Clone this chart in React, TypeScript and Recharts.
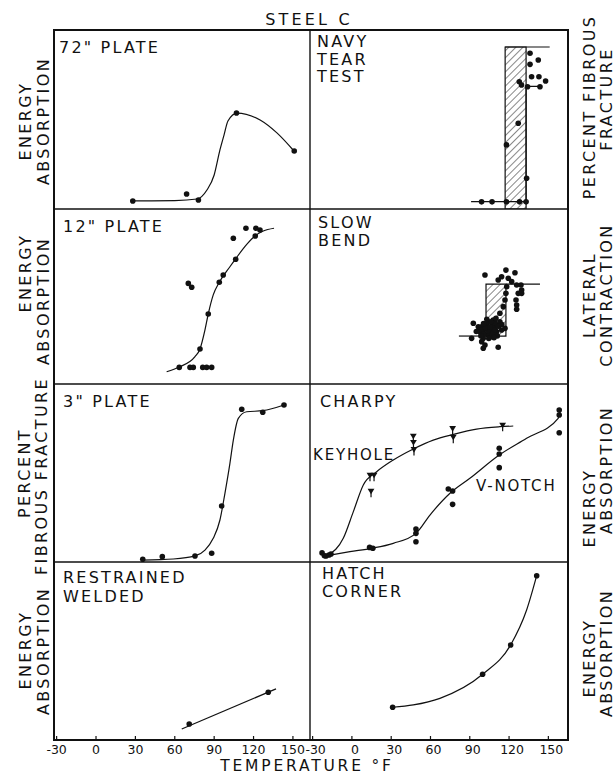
import React from "react";
import { ComposedChart, Line, Scatter, XAxis, YAxis, ReferenceArea } from "recharts";

const INK = "#111";
const FONT = '"DejaVu Sans", "Liberation Sans", sans-serif';

const TEMP_TICKS = [-30, 0, 30, 60, 90, 120, 150];
const LEFT_DOMAIN: [number, number] = [-32, 163];
const RIGHT_DOMAIN: [number, number] = [-32, 165];

// 72" plate — energy absorption
const plate72Temp = [28, 69, 78, 107, 151];
const plate72Energy = [4.5, 8.4, 5, 53.6, 32.4];
const plate72CurveTemp = [28, 60, 77, 84.5, 90, 94.4, 97.5, 100.5, 107.4, 125, 137.8, 150.8];
const plate72CurveEnergy = [4.5, 4.7, 5.6, 10.6, 19, 33, 41.3, 49.2, 53.6, 49.7, 42.5, 32.4];

// Navy tear test — percent fibrous fracture
const navyTemp = [99, 107, 118, 128, 133, 118, 127, 133.4, 127.8, 136, 142.3, 136, 137.2, 142.8, 147.9, 143.6, 134.1, 129.5];
const navyFibrous = [4, 4, 4, 4, 4, 35.8, 47.9, 17.2, 71.1, 87, 83.2, 80.8, 73.9, 73.9, 71.5, 68.3, 68.3, 69.3];
const navyStepTemp = [91, 133, 133, 143.6];
const navyStepFibrous = [4.1, 4.1, 68.5, 68.5];
const navyBandTemp = [117, 133];
const navyBandTop = 90.5;
const navyCapTemp = [117, 151];

// 12" plate — energy absorption
const plate12Temp = [63.4, 71.6, 74.1, 81.3, 84.3, 88.1, 79.2, 85.5, 93.9, 96.9, 106.4, 104.6, 114.2, 121.3, 121.8, 124.9, 70.3, 72.9];
const plate12Energy = [9.5, 9.5, 9.5, 9.5, 9.5, 9.5, 20, 40, 58.1, 62.3, 71.3, 83.3, 89, 84.6, 89, 88, 57.5, 55.3];
const plate12CurveTemp = [53.8, 63.4, 75.4, 79.2, 83, 85.5, 89.3, 93.9, 102, 106.6, 114.8, 121.1, 127.4, 135.6];
const plate12CurveEnergy = [7, 9.7, 15.6, 20, 30.9, 40, 50.9, 58.1, 67, 71.8, 79.8, 84.6, 87.4, 89];

// Slow bend — lateral contraction
const bendTemp = [
  101.6, 117.6, 124.5, 114.3, 111.7, 119.4, 122, 125.8, 129.1, 129.6, 127, 129.6, 125.3, 125.8, 125.8, 117.6, 118.2,
  92.7, 99.1, 100.3, 102.9, 105.4, 107.9, 110.5, 113, 110.5, 114.3, 116.9, 107.9, 113, 115.6, 116.9,
  100.3, 99.1, 101.6, 100.3, 111.7, 91.4, 104.1, 106.7, 97.8, 96.5, 103.9, 107, 103.1, 101, 104, 108, 111, 109, 98.5,
  102, 105.5, 109.5, 112, 104.5, 100.5, 106, 110, 114.5, 103, 98, 95, 108.5,
];
const bendContraction = [
  62.3, 65.1, 63.6, 61.3, 59.4, 60.4, 58.5, 56.6, 56.6, 53.7, 51.8, 51.8, 48, 45.1, 42.7, 51.8, 55.6,
  34.7, 32.7, 30.9, 33.7, 29.9, 31.8, 33.7, 35.6, 29.9, 30.9, 31.8, 36.6, 40.4, 44.2, 48,
  26.1, 24.2, 22.3, 20.4, 21, 26.1, 28, 27, 29.9, 32.7, 35.4, 33.1, 31.4, 28.5, 30.5, 29, 27.5, 35, 27.5,
  32, 32.5, 31, 33, 26, 34.5, 35.5, 37.5, 34, 37, 31, 30, 26.5,
];
const bendBandTemp = [102.4, 117.6];
const bendBandContraction = [27.4, 57.1];
const bendLowTemp = [81.7, 102.4];
const bendHighTemp = [117.6, 143.6];

// 3" plate — percent fibrous fracture
const plate3Temp = [35.6, 50.5, 75.4, 88.1, 95.7, 111, 127, 143.2];
const plate3Fibrous = [1.5, 3, 3.4, 4.9, 31.5, 85.8, 84.1, 88.2];
const plate3CurveTemp = [35.6, 58.9, 75.4, 83, 89.3, 94.4, 98.2, 102, 104.6, 108.4, 114.8, 127, 143.2];
const plate3CurveFibrous = [1.1, 1.7, 3.4, 6.7, 13.3, 23.6, 38.6, 55.4, 68.5, 80.7, 84.4, 85, 88.2];

// Charpy — keyhole and V-notch energy
const charpyStartTemp = [-22.8, -21, -19.8, -17.5, -16];
const charpyStartEnergy = [5.1, 3.5, 3.4, 3.9, 4.5];
const keyholeTemp = [13.8, 16.9, 14.6, 46.9, 47, 47.4, 76.9, 77.4, 115.1];
const keyholeEnergy = [48.5, 48.5, 39.5, 70.4, 66.9, 62.9, 74.7, 69.8, 76.6];
const keyholeCurveTemp = [-18, -6.6, 1.1, 8.7, 18.9, 31.6, 46.9, 62.1, 77.4, 95.2, 113, 123.2];
const keyholeCurveEnergy = [3.9, 13.3, 28.3, 43.3, 50.7, 57.3, 63.5, 68.5, 71.7, 74.7, 76, 76.4];
const vNotchTemp = [13.5, 16, 48.9, 48.9, 48.9, 73.6, 76.9, 76.9, 112.5, 112.5, 112.5, 158.3, 158.3, 158.3];
const vNotchEnergy = [8.2, 7.7, 18.5, 16.1, 11.4, 41, 39.9, 32.4, 63.9, 60.7, 53, 85.4, 82.6, 72.6];
const vNotchCurveTemp = [-16.7, -1.5, 15.1, 31.6, 48.9, 59.6, 74.9, 90.1, 112.5, 133.4, 157.5, 158.8];
const vNotchCurveEnergy = [3.9, 5.8, 7.7, 10.5, 16.1, 26.4, 38.6, 47, 60.1, 69.5, 80.7, 84.4];

// Restrained welded — energy absorption
const weldedTemp = [71, 131.2];
const weldedEnergy = [9, 26.8];
const weldedLineTemp = [65.3, 137.1];
const weldedLineEnergy = [6.2, 28.7];

// Hatch corner — energy absorption
const hatchTemp = [31.1, 99.8, 121.2, 141.1];
const hatchEnergy = [18.4, 36.9, 53.4, 92.3];
const hatchCurveTemp = [31.1, 46.9, 67.2, 99.8, 121.2, 133.4, 141.1];
const hatchCurveEnergy = [18.4, 19.7, 23.4, 36.9, 53.4, 73, 92.3];

const pts = (ts: number[], vs: number[]) => ts.map((t, i) => ({ t, v: vs[i] }));

const PAD = 18;

function Dot(props: any) {
  const { cx, cy } = props;
  if (cx == null || cy == null) return null;
  return <circle cx={cx} cy={cy} r={2.8} fill={INK} />;
}

function KeyholeMark(props: any) {
  const { cx, cy } = props;
  if (cx == null || cy == null) return null;
  return (
    <g>
      <path d={`M${cx - 3.4},${cy - 3} L${cx + 3.4},${cy - 3} L${cx},${cy + 2.6} Z`} fill={INK} />
      <line x1={cx} y1={cy} x2={cx} y2={cy + 5.5} stroke={INK} strokeWidth={1.2} />
    </g>
  );
}

// inward tick mark on the panel floor, with the temperature printed below on the bottom row
function tempTick(showLabel: boolean, labelShift: number) {
  return (props: any) => {
    const { x, y, payload } = props;
    return (
      <g>
        <line x1={x} y1={y} x2={x} y2={y - 4} stroke={INK} strokeWidth={1.2} />
        {showLabel && (
          <text x={x + labelShift} y={y + 14} textAnchor="middle" fontSize={12.5} fill={INK} fontFamily={FONT}>
            {payload.value}
          </text>
        )}
      </g>
    );
  };
}

function Panel({
  left,
  top,
  width,
  height,
  domain,
  labels = false,
  labelShift = 0,
  children,
}: {
  left: number;
  top: number;
  width: number;
  height: number;
  domain: [number, number];
  labels?: boolean;
  labelShift?: number;
  children: React.ReactNode;
}) {
  const axisH = labels ? 22 : 0;
  return (
    <div style={{ position: "absolute", left: left - PAD, top, width: width + PAD * 2, height: height + axisH }}>
      <ComposedChart
        width={width + PAD * 2}
        height={height + axisH}
        margin={{ top: 0, right: PAD, bottom: 0, left: PAD }}
      >
        <defs>
          <pattern id={`hatch-${left}-${top}`} width={5} height={5} patternUnits="userSpaceOnUse" patternTransform="rotate(45)">
            <line x1={0} y1={0} x2={0} y2={5} stroke={INK} strokeWidth={1} />
          </pattern>
        </defs>
        <XAxis
          type="number"
          dataKey="t"
          domain={domain}
          ticks={TEMP_TICKS}
          interval={0}
          allowDataOverflow
          axisLine={false}
          tickLine={false}
          tickSize={0}
          tickMargin={0}
          height={axisH}
          tick={tempTick(labels, labelShift)}
        />
        <YAxis type="number" dataKey="v" domain={[0, 100]} hide allowDataOverflow />
        {children}
      </ComposedChart>
    </div>
  );
}

const curve = (data: { t: number; v: number }[], type: "monotone" | "linear" = "monotone") => (
  <Line
    data={data}
    dataKey="v"
    type={type}
    stroke={INK}
    strokeWidth={1.2}
    dot={false}
    activeDot={false}
    isAnimationActive={false}
  />
);

const dots = (data: { t: number; v: number }[], shape: any = Dot) => (
  <Scatter data={data} dataKey="v" shape={shape} isAnimationActive={false} />
);

function SideLabel({ x, y, text }: { x: number; y: number; text: string }) {
  return (
    <text
      transform={`translate(${x},${y}) rotate(-90)`}
      textAnchor="middle"
      fontSize={16}
      letterSpacing={2.4}
      fill={INK}
      fontFamily={FONT}
    >
      {text}
    </text>
  );
}

function Title({ x, y, lines, step = 17.5 }: { x: number; y: number; lines: string[]; step?: number }) {
  return (
    <text x={x} y={y} fontSize={16} letterSpacing={2.2} fill={INK} fontFamily={FONT}>
      {lines.map((l, i) => (
        <tspan key={l} x={x} dy={i === 0 ? 0 : step}>
          {l}
        </tspan>
      ))}
    </text>
  );
}

export default function App() {
  const navyHatch = "url(#hatch-310-30)";
  const bendHatch = "url(#hatch-310-209)";
  return (
    <div style={{ position: "absolute", left: 0, top: 0, width: 616, height: 775, background: "#fff" }}>
      {/* 72" plate */}
      <Panel left={54} top={30} width={256} height={179} domain={LEFT_DOMAIN}>
        {curve(pts(plate72CurveTemp, plate72CurveEnergy))}
        {dots(pts(plate72Temp, plate72Energy))}
      </Panel>

      {/* navy tear test */}
      <Panel left={310} top={30} width={258} height={179} domain={RIGHT_DOMAIN}>
        <ReferenceArea
          x1={navyBandTemp[0]}
          x2={navyBandTemp[1]}
          y1={0}
          y2={navyBandTop}
          fill={navyHatch}
          fillOpacity={1}
          stroke={INK}
          strokeWidth={1.2}
        />
        {curve(pts(navyCapTemp, [navyBandTop, navyBandTop]), "linear")}
        {curve(pts(navyStepTemp, navyStepFibrous), "linear")}
        {dots(pts(navyTemp, navyFibrous))}
      </Panel>

      {/* 12" plate */}
      <Panel left={54} top={209} width={256} height={175} domain={LEFT_DOMAIN}>
        {curve(pts(plate12CurveTemp, plate12CurveEnergy))}
        {dots(pts(plate12Temp, plate12Energy))}
      </Panel>

      {/* slow bend */}
      <Panel left={310} top={209} width={258} height={175} domain={RIGHT_DOMAIN}>
        <ReferenceArea
          x1={bendBandTemp[0]}
          x2={bendBandTemp[1]}
          y1={bendBandContraction[0]}
          y2={bendBandContraction[1]}
          fill={bendHatch}
          fillOpacity={1}
          stroke={INK}
          strokeWidth={1.2}
        />
        {curve(pts(bendLowTemp, [bendBandContraction[0], bendBandContraction[0]]), "linear")}
        {curve(pts(bendHighTemp, [bendBandContraction[1], bendBandContraction[1]]), "linear")}
        {dots(pts(bendTemp, bendContraction))}
      </Panel>

      {/* 3" plate */}
      <Panel left={54} top={384} width={256} height={178} domain={LEFT_DOMAIN}>
        {curve(pts(plate3CurveTemp, plate3CurveFibrous))}
        {dots(pts(plate3Temp, plate3Fibrous))}
      </Panel>

      {/* charpy */}
      <Panel left={310} top={384} width={258} height={178} domain={RIGHT_DOMAIN}>
        {curve(pts(keyholeCurveTemp, keyholeCurveEnergy))}
        {curve(pts(vNotchCurveTemp, vNotchCurveEnergy))}
        {dots(pts(charpyStartTemp, charpyStartEnergy))}
        {dots(pts(vNotchTemp, vNotchEnergy))}
        {dots(pts(keyholeTemp, keyholeEnergy), KeyholeMark)}
      </Panel>

      {/* restrained welded */}
      <Panel left={54} top={562} width={256} height={178} domain={LEFT_DOMAIN} labels labelShift={0}>
        {curve(pts(weldedLineTemp, weldedLineEnergy), "linear")}
        {dots(pts(weldedTemp, weldedEnergy))}
      </Panel>

      {/* hatch corner */}
      <Panel left={310} top={562} width={258} height={178} domain={RIGHT_DOMAIN} labels labelShift={3}>
        {curve(pts(hatchCurveTemp, hatchCurveEnergy))}
        {dots(pts(hatchTemp, hatchEnergy))}
      </Panel>

      <svg
        width={616}
        height={775}
        style={{ position: "absolute", left: 0, top: 0, pointerEvents: "none" }}
      >
        <rect x={54} y={30} width={514} height={710} fill="none" stroke={INK} strokeWidth={2} />
        <line x1={310} y1={30} x2={310} y2={740} stroke={INK} strokeWidth={1.4} />
        <line x1={54} y1={209} x2={568} y2={209} stroke={INK} strokeWidth={1.6} />
        <line x1={54} y1={384} x2={568} y2={384} stroke={INK} strokeWidth={1.6} />
        <line x1={54} y1={562} x2={568} y2={562} stroke={INK} strokeWidth={1.6} />

        <text x={309} y={25} textAnchor="middle" fontSize={16} letterSpacing={3.2} fill={INK} fontFamily={FONT}>
          STEEL C
        </text>
        <text x={307} y={771} textAnchor="middle" fontSize={15.5} letterSpacing={2.8} fill={INK} fontFamily={FONT}>
          TEMPERATURE °F
        </text>

        <Title x={59} y={53} lines={['72" PLATE']} />
        <Title x={317} y={47} lines={["NAVY", "TEAR", "TEST"]} />
        <Title x={63} y={232} lines={['12" PLATE']} />
        <Title x={318} y={228} lines={["SLOW", "BEND"]} />
        <Title x={63} y={407} lines={['3" PLATE']} />
        <Title x={320} y={407} lines={["CHARPY"]} />
        <Title x={63} y={583} lines={["RESTRAINED", "WELDED"]} step={19} />
        <Title x={322} y={579} lines={["HATCH", "CORNER"]} />

        <text x={313} y={460} fontSize={15} letterSpacing={1.8} fill={INK} fontFamily={FONT}>
          KEYHOLE
        </text>
        <text x={476} y={491} fontSize={15} letterSpacing={1.8} fill={INK} fontFamily={FONT}>
          V-NOTCH
        </text>

        <SideLabel x={31} y={121} text="ENERGY" />
        <SideLabel x={49} y={121} text="ABSORPTION" />
        <SideLabel x={31} y={273} text="ENERGY" />
        <SideLabel x={49} y={301} text="ABSORPTION" />
        <SideLabel x={30} y={473} text="PERCENT" />
        <SideLabel x={47} y={476} text="FIBROUS FRACTURE" />
        <SideLabel x={31} y={650} text="ENERGY" />
        <SideLabel x={49} y={651} text="ABSORPTION" />

        <SideLabel x={595} y={107} text="PERCENT FIBROUS" />
        <SideLabel x={612} y={99} text="FRACTURE" />
        <SideLabel x={595} y={295} text="LATERAL" />
        <SideLabel x={612} y={295} text="CONTRACTION" />
        <SideLabel x={595} y={508} text="ENERGY" />
        <SideLabel x={612} y={470} text="ABSORPTION" />
        <SideLabel x={595} y={658} text="ENERGY" />
        <SideLabel x={612} y={653} text="ABSORPTION" />
      </svg>
    </div>
  );
}
